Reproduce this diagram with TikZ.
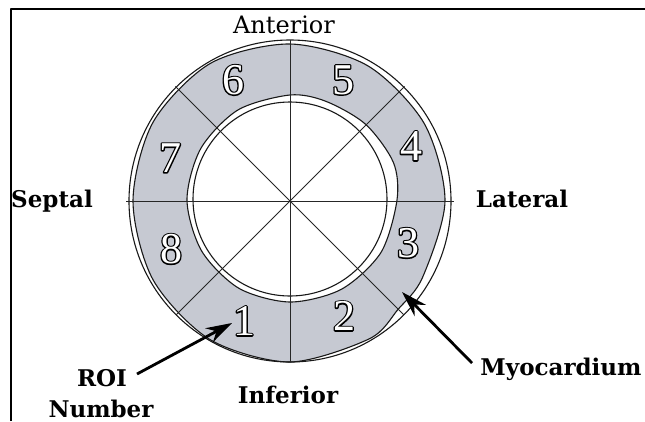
\documentclass[tikz,border=0pt]{standalone}
\usepackage{fontspec}
\setmainfont{DejaVu Serif}
\newfontfamily\numfont{Liberation Serif}
\newfontfamily\numblack{Liberation Serif}[FakeBold=6]
\usetikzlibrary{arrows.meta,calc}
\definecolor{myogray}{RGB}{198,201,210}
\newcommand\hollow[1]{\rlap{\numblack\color{black}#1}{\numfont\color{white}#1}}
\begin{document}
\begin{tikzpicture}[x=1pt,y=-1pt, line join=round,
  ring/.style={draw=black!90, line width=1.1pt},
  spoke/.style={draw=black!85, line width=0.9pt},
  lbl/.style={font=\fontsize{23}{26}\selectfont\bfseries, inner sep=0pt, anchor=base},
  toplbl/.style={font=\fontsize{24}{26}\selectfont, inner sep=0pt, anchor=base},
  roinum/.style={font=\fontsize{44}{44}\selectfont, inner sep=0pt},
  pointer/.style={line width=2.8pt, -{Stealth[length=26pt,width=16pt]}}]
\useasboundingbox (0,0) rectangle (645,421);
\fill[white] (0,0) rectangle (645,421);
\draw[line width=1.6pt] (11,421) -- (11,9) -- (645,9);
\coordinate (C) at (290,201);
% epicardial contour
\filldraw[fill=myogray, ring, shift={(290,201)}] plot[smooth cycle] coordinates {
  (0:155) (-30:155) (-60:156) (-90:157) (-120:159) (-150:158) (180:157)
  (150:158) (120:160) (90:161) (60:159) (45:153) (30:153)};
% outer circle
\draw[ring] (C) circle[radius=161];
% endocardial contour
\filldraw[fill=white, ring, shift={(290,200)}] plot[smooth cycle] coordinates {
  (0:107) (-20:110) (-45:107) (-70:105) (-90:105) (-120:104) (-150:103)
  (180:103) (150:102) (120:102) (90:102) (60:103) (30:105)};
% inner circle
\draw[ring] (290,199) circle[radius=97];
% spokes
\draw[spoke] ($(C)+(180:164)$) -- ($(C)+(0:164)$);
\draw[spoke] ($(C)+(-90:161)$) -- ($(C)+(90:161)$);
\draw[spoke] ($(C)+(-135:162)$) -- ($(C)+(45:161)$);
\draw[spoke] ($(C)+(-45:162)$) -- ($(C)+(135:161)$);
% ROI numbers
\node[roinum] (n1) at (244,321) {\hollow{1}};
\node[roinum] (n2) at (344,316) {\hollow{2}};
\node[roinum] (n3) at (408,243) {\hollow{3}};
\node[roinum] (n4) at (411,146) {\hollow{4}};
\node[roinum] (n5) at (343,80) {\hollow{5}};
\node[roinum] (n6) at (233,80) {\hollow{6}};
\node[roinum] (n7) at (170,158) {\hollow{7}};
\node[roinum] (n8) at (171,249) {\hollow{8}};
% labels
\node[toplbl] (ant) at (284,33) {Anterior};
\node[lbl] (sep) at (52,207) {Septal};
\node[lbl] (lat) at (522,207) {Lateral};
\node[lbl] (inf) at (288,403) {Inferior};
\node[lbl] (roi) at (102,386) {ROI};
\node[lbl] (num) at (101,417) {Number};
\node[lbl] (myo) at (561,375) {Myocardium};
% arrows
\coordinate (roistart) at (137,374);
\coordinate (roitip) at (232,323);
\coordinate (myostart) at (472,363);
\coordinate (myotip) at (402,292);
\draw[pointer] (roistart) -- (roitip);
\draw[pointer] (myostart) -- (myotip);
\end{tikzpicture}
\end{document}
